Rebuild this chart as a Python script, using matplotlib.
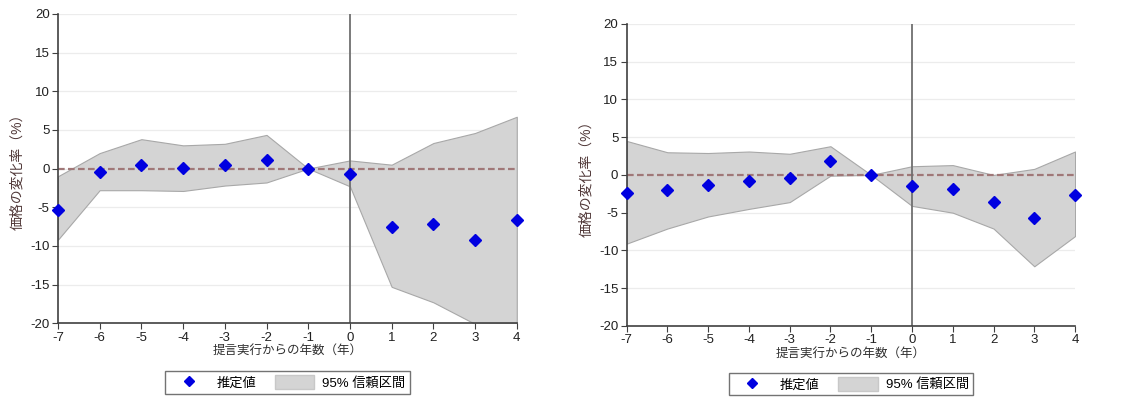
import numpy as np
import matplotlib.pyplot as plt
from matplotlib.patches import Patch
from matplotlib.lines import Line2D

plt.rcParams['font.family'] = ['Liberation Sans', 'Noto Sans CJK JP', 'DejaVu Sans']
plt.rcParams['axes.unicode_minus'] = False

# 年（提言実行からの年数）
years = [-7, -6, -5, -4, -3, -2, -1, 0, 1, 2, 3, 4]

# 左パネル
est_left = [-5.3, -0.5, 0.5, 0.05, 0.5, 1.1, 0.0, -0.65, -7.5, -7.2, -9.3, -6.7]
upper_left = [-1.0, 2.0, 3.8, 3.0, 3.2, 4.35, 0.0, 1.05, 0.5, 3.3, 4.6, 6.7]
lower_left = [-9.2, -2.8, -2.8, -2.9, -2.2, -1.8, 0.0, -2.3, -15.3, -17.3, -20.1, -20.0]

# 右パネル
est_right = [-2.4, -2.0, -1.3, -0.75, -0.45, 1.8, 0.0, -1.5, -1.9, -3.6, -5.7, -2.6]
upper_right = [4.5, 3.0, 2.9, 3.1, 2.8, 3.8, 0.0, 1.15, 1.3, 0.0, 0.8, 3.1]
lower_right = [-9.1, -7.1, -5.5, -4.5, -3.6, -0.1, 0.0, -4.1, -5.0, -7.1, -12.1, -8.1]

yticks = [-20, -15, -10, -5, 0, 5, 10, 15, 20]

fig = plt.figure(figsize=(11.21, 3.98), dpi=100)
ax1 = fig.add_axes([0.0517, 0.188, 0.4093, 0.777])
ax2 = fig.add_axes([0.559, 0.181, 0.400, 0.759])


def draw(ax, est, lo, hi):
    ax.fill_between(years, lo, hi, facecolor='#d4d4d4', edgecolor='#a8a8a8',
                    linewidth=0.8, zorder=1)
    ax.axhline(0, color='#a07878', linestyle=(0, (3, 1.5)), linewidth=1.6, zorder=2)
    ax.axvline(0, color='#707070', linewidth=1.3, zorder=2)
    ax.plot(years, est, linestyle='none', marker='D', markersize=6.5,
            color='#0000e0', zorder=3, clip_on=False)
    ax.set_xlim(-7, 4)
    ax.set_ylim(-20, 20)
    ax.set_xticks(years)
    ax.set_yticks(yticks)
    for y in yticks[1:]:
        ax.axhline(y, color='#ececec', linewidth=0.9, zorder=0)
    for s in ['top', 'right']:
        ax.spines[s].set_visible(False)
    for s in ['left', 'bottom']:
        ax.spines[s].set_color('#404040')
        ax.spines[s].set_linewidth(1.2)
    ax.tick_params(axis='both', labelsize=9.5, colors='#404040', length=4,
                   direction='out', pad=2)
    ax.tick_params(axis='both', labelcolor='#202020')
    ax.set_xlabel('提言実行からの年数（年）', fontsize=9, color='#303030', labelpad=1)
    ax.set_ylabel('価格の変化率（%）', fontsize=10, color='#503838', labelpad=4)
    handles = [Line2D([], [], linestyle='none', marker='D', markersize=5.5,
                      color='#0000e0'),
               Patch(facecolor='#d4d4d4', edgecolor='#c8c8c8')]
    leg = ax.legend(handles, ['推定値', '95% 信頼区間'], loc='upper center',
                    bbox_to_anchor=(0.5, -0.155), ncol=2, fontsize=9.5,
                    frameon=True, fancybox=False, handlelength=3.0,
                    handleheight=1.3, handletextpad=0.6, columnspacing=1.4,
                    borderpad=0.3, borderaxespad=0)
    leg.get_frame().set_edgecolor('#505050')
    leg.get_frame().set_linewidth(1.0)


draw(ax1, est_left, lower_left, upper_left)
draw(ax2, est_right, lower_right, upper_right)

fig.savefig('out.png', dpi=100)
